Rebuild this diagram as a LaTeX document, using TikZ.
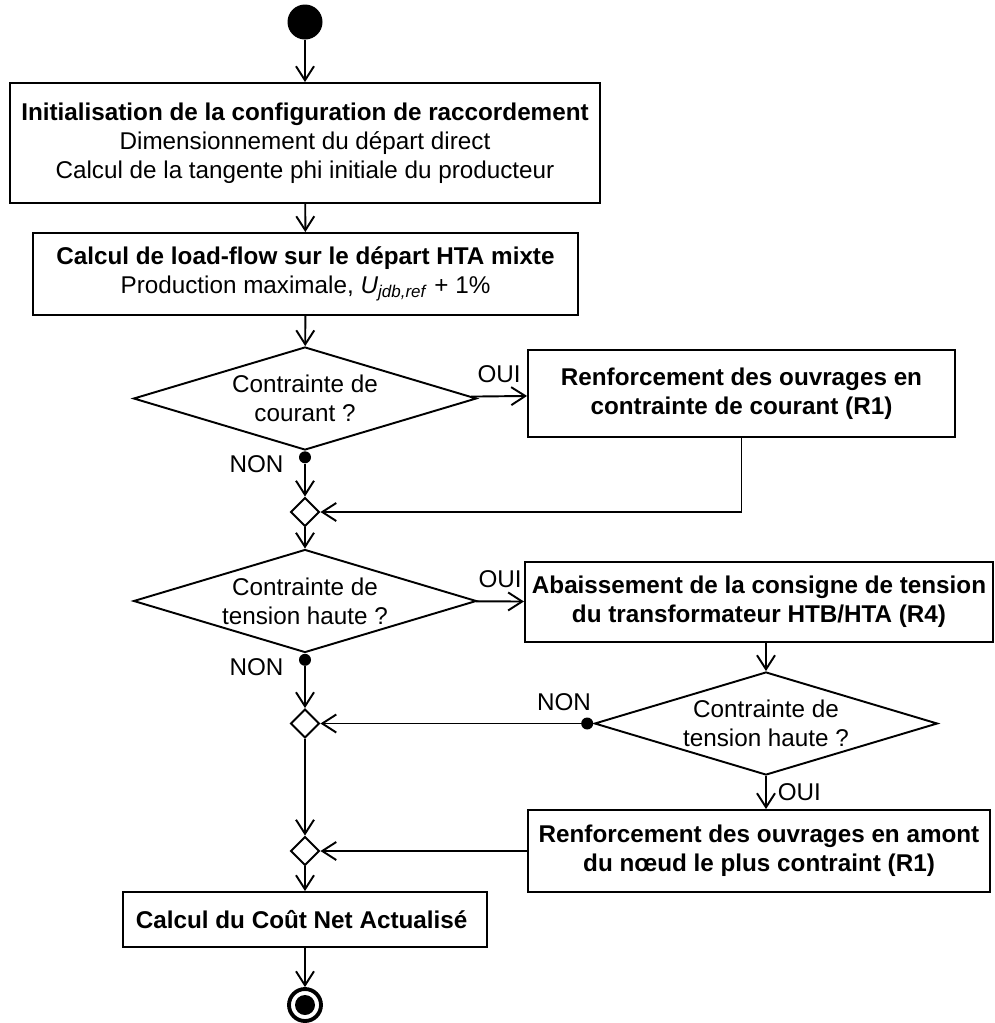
\documentclass[tikz,border=0pt]{standalone}
\usepackage{fontspec}
\setmainfont{Liberation Sans}
\usetikzlibrary{arrows.meta, shapes.geometric, positioning, calc}

\begin{document}
\begin{tikzpicture}[
    >={Straight Barb[length=2.8mm, width=3.6mm]},
    font=\fontsize{13.8}{16.6}\selectfont,
    lien/.style={line width=1.1pt},
    bloc/.style={draw, line width=1.1pt, align=center, inner sep=4pt},
    decision/.style={draw, diamond, line width=1.1pt, align=center, aspect=3.3, inner sep=0pt, minimum width=6.86cm, minimum height=2.06cm},
    fusion/.style={draw, diamond, line width=1.1pt, inner sep=0pt, minimum width=0.58cm, minimum height=0.58cm},
    point/.style={circle, fill=black, inner sep=0pt, minimum size=0.24cm},
    depart/.style={circle, fill=black, inner sep=0pt, minimum size=0.7cm},
    arrivee/.style={circle, draw, line width=2.2pt, inner sep=0pt, minimum size=0.64cm,
      path picture={\fill (path picture bounding box.center) circle (0.2cm);}}
  ]
    \useasboundingbox (0,0) rectangle (19.88,-20.46);

    % Noeud initial
    \node[depart] (debut) at (6.1, -0.44) {};

    % Initialisation
    \node[bloc, minimum width=11.8cm, minimum height=2.4cm] (init) at (6.1, -2.86) {
      \textbf{Initialisation de la configuration de raccordement}\\
      Dimensionnement du départ direct\\
      Calcul de la tangente phi initiale du producteur
    };

    % Load-flow
    \node[bloc, minimum width=10.9cm, minimum height=1.64cm] (lf) at (6.11, -5.48) {
      \textbf{Calcul de load-flow sur le départ HTA mixte}\\
      Production maximale, \textit{U}\textsubscript{\textit{jdb,ref}} + 1\%
    };

    % Contrainte de courant
    \node[decision] (dc) at (6.1, -7.97) {Contrainte de\\courant ?};
    \node[bloc, minimum width=8.54cm, minimum height=1.74cm] (rc) at (14.83, -7.87) {
      \textbf{Renforcement des ouvrages en}\\
      \textbf{contrainte de courant (R1)}
    };
    \node[point, anchor=north] (nd1) at (dc.south) {};
    \node[left=0.18cm of nd1, yshift=-0.14cm] (non1) {NON};
    \node[fusion] (f1) at (6.1, -10.24) {};

    % Contrainte de tension haute
    \node[decision] (dt) at (6.1, -12.02) {Contrainte de\\tension haute ?};
    \node[bloc, minimum width=9.24cm, minimum height=1.6cm] (ab) at (15.18, -12.04) {
      \textbf{Abaissement de la consigne de tension}\\
      \textbf{du transformateur HTB/HTA (R4)}
    };
    \node[point, anchor=north] (nd2) at (dt.south) {};
    \node[left=0.18cm of nd2, yshift=-0.14cm] (non2) {NON};
    \node[fusion] (f2) at (6.1, -14.47) {};

    % Nouveau test apres abaissement
    \node[decision] (dt2) at (15.32, -14.47) {Contrainte de\\tension haute ?};
    \node[point, anchor=east] (nd3) at (dt2.west) {};
    \node[anchor=south east] (non3) at ($(nd3)+(0.2,0.14)$) {NON};
    \node[bloc, minimum width=9.24cm, minimum height=1.64cm] (rm) at (15.18, -17.02) {
      \textbf{Renforcement des ouvrages en amont}\\
      \textbf{du nœud le plus contraint (R1)}
    };
    \node[fusion] (f3) at (6.1, -17.02) {};

    % Fin
    \node[bloc, minimum width=7.28cm, minimum height=1.1cm] (can) at (6.1, -18.39) {
      \textbf{Calcul du Coût Net Actualisé}
    };
    \node[arrivee] (fin) at (6.1, -20.1) {};

    % Liens
    \draw[lien, ->] (debut) -- (init);
    \draw[lien, ->] (init) -- (lf);
    \draw[lien, ->] (lf) -- (dc);
    \draw[lien, ->] (dc) -- node[above=0.14cm] (oui1) {OUI} (rc);
    \draw[lien, ->] (nd1) -- (f1);
    \draw[lien, ->] (rc.south) |- (f1.east);
    \draw[lien, ->] (f1) -- (dt);
    \draw[lien, ->] (dt) -- node[above=0.14cm] (oui2) {OUI} (ab);
    \draw[lien, ->] (ab.south -| dt2.north) -- (dt2.north);
    \draw[lien, ->] (nd2) -- (f2);
    \draw[lien, ->] (nd3) -- (f2);
    \draw[lien, ->] (dt2.south) -- node[right=0.1cm] (oui3) {OUI} (dt2.south |- rm.north);
    \draw[lien, ->] (rm) -- (f3);
    \draw[lien, ->] (f2) -- (f3);
    \draw[lien, ->] (f3) -- (can);
    \draw[lien, ->] (can) -- (fin);

  \end{tikzpicture}
\end{document}
